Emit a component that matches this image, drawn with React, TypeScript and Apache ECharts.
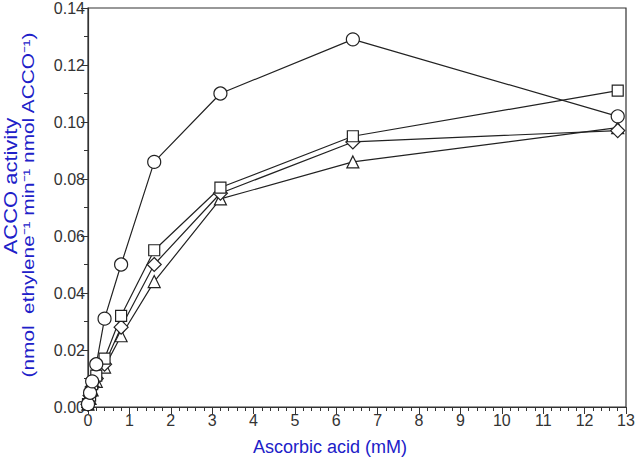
import React, { useEffect, useRef } from "react";
import * as echarts from "echarts";

const xValues = [0, 0.05, 0.1, 0.2, 0.4, 0.8, 1.6, 3.2, 6.4, 12.8];
const circleValues = [0.001, 0.005, 0.009, 0.015, 0.031, 0.050, 0.086, 0.110, 0.129, 0.102];
const squareValues = [0.001, 0.004, 0.008, 0.011, 0.017, 0.032, 0.055, 0.077, 0.095, 0.111];
const diamondValues = [0.001, 0.004, 0.007, 0.010, 0.015, 0.028, 0.050, 0.075, 0.093, 0.097];
const triangleValues = [0.001, 0.003, 0.006, 0.009, 0.014, 0.025, 0.044, 0.073, 0.086, 0.098];

const xTitle = "Ascorbic acid (mM)";
const yTitle1 = "ACCO activity";
const yTitle2 = "(nmol  ethylene\u207B\u00B9 min\u207B\u00B9 nmol ACCO\u207B\u00B9)";

const BLUE = "#2020c8";
const INK = "#222222";
const FONT = "'Liberation Sans', Arial, sans-serif";

function pairs(ys: number[]) {
  return xValues.map((x, i) => [x, ys[i]]);
}

export default function App() {
  const ref = useRef<HTMLDivElement>(null);
  useEffect(() => {
    if (!ref.current) return;
    const chart = echarts.init(ref.current, null, { renderer: "svg" });
    const mkSeries = (name: string, data: number[], symbol: string, size: number) => ({
      name,
      type: "line",
      data: pairs(data),
      symbol,
      symbolSize: size,
      showAllSymbol: true,
      lineStyle: { color: INK, width: 1.2 },
      itemStyle: { color: "#ffffff", borderColor: INK, borderWidth: 1.2 },
      emphasis: { disabled: true },
    });
    chart.setOption({
      animation: false,
      backgroundColor: "#ffffff",
      grid: {
        left: 88,
        right: 14,
        top: 8,
        bottom: 54,
        show: true,
        borderColor: "#333333",
        borderWidth: 1.2,
        backgroundColor: "transparent",
      },
      xAxis: {
        type: "value",
        min: 0,
        max: 13,
        interval: 1,
        axisLine: { show: true, onZero: false, lineStyle: { color: "#333333", width: 1.2 } },
        axisTick: { show: true, inside: false, length: 7, lineStyle: { color: "#333333" } },
        minorTick: { show: true, splitNumber: 5, length: 4, lineStyle: { color: "#333333" } },
        axisLabel: { color: "#333333", fontSize: 16, fontFamily: FONT, margin: 5 },
        splitLine: { show: false },
      },
      yAxis: {
        type: "value",
        min: 0,
        max: 0.14,
        interval: 0.02,
        axisLine: { show: true, onZero: false, lineStyle: { color: "#333333", width: 1.2 } },
        axisTick: { show: true, inside: false, length: 7, lineStyle: { color: "#333333" } },
        minorTick: { show: true, splitNumber: 2, length: 4, lineStyle: { color: "#333333" } },
        axisLabel: {
          color: "#333333",
          fontSize: 16,
          fontFamily: FONT,
          margin: 3,
          formatter: (v: number) => v.toFixed(2),
        },
        splitLine: { show: false },
      },
      graphic: [
        {
          type: "text",
          x: 330,
          y: 447,
          style: {
            text: xTitle,
            fill: BLUE,
            fontSize: 18,
            fontFamily: FONT,
            textAlign: "center",
            textVerticalAlign: "middle",
          },
        },
        {
          type: "text",
          x: 11,
          y: 186,
          rotation: Math.PI / 2,
          scaleX: 1.22,
          style: {
            text: yTitle1,
            fill: BLUE,
            fontSize: 18,
            fontFamily: FONT,
            textAlign: "center",
            textVerticalAlign: "middle",
          },
        },
        {
          type: "text",
          x: 28,
          y: 205,
          rotation: Math.PI / 2,
          scaleX: 1.3,
          style: {
            text: yTitle2,
            fill: BLUE,
            fontSize: 16,
            fontFamily: FONT,
            textAlign: "center",
            textVerticalAlign: "middle",
          },
        },
      ],
      series: [
        mkSeries("triangle", triangleValues, "triangle", 12),
        mkSeries("diamond", diamondValues, "diamond", 14),
        mkSeries("square", squareValues, "rect", 11),
        mkSeries("circle", circleValues, "circle", 13),
      ],
    });
    return () => chart.dispose();
  }, []);
  return <div ref={ref} style={{ width: 640, height: 461, position: "absolute", left: 0, top: 0 }} />;
}
